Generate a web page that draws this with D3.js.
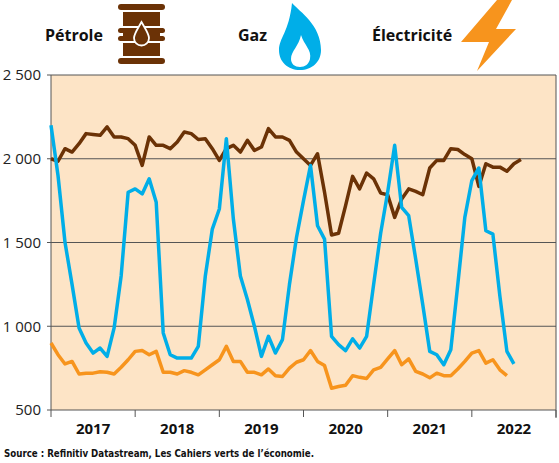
<!DOCTYPE html>
<html><head><meta charset="utf-8">
<script src="https://cdn.jsdelivr.net/npm/d3@7"></script>
<style>body{margin:0;background:#fff}</style></head>
<body><svg id="c" width="559" height="463"></svg>
<script>
const years=["2017","2018","2019","2020","2021","2022"];
const yTicks=[500,1000,1500,2000,2500];
const petrole=[2000,1985,2060,2040,2090,2150,2145,2140,2190,2130,2130,2120,2080,1960,2130,2080,2080,2060,2100,2160,2150,2115,2120,2060,1990,2060,2080,2040,2110,2050,2070,2180,2130,2130,2110,2040,2000,1960,2030,1800,1545,1555,1720,1895,1820,1915,1880,1795,1785,1650,1760,1820,1805,1785,1945,1990,1990,2060,2055,2025,2000,1835,1970,1950,1950,1925,1970,1995];
const gaz=[2200,1900,1500,1250,990,900,840,870,820,990,1300,1800,1820,1790,1880,1740,960,830,810,810,810,880,1300,1580,1700,2120,1640,1300,1160,1000,820,940,840,920,1250,1530,1750,1960,1600,1520,940,890,855,925,870,940,1250,1555,1800,2080,1710,1660,1400,1130,850,830,770,860,1250,1650,1870,1945,1570,1550,1180,850,775];
const electricite=[900,830,775,790,715,720,720,728,725,715,755,800,850,855,830,850,725,725,715,735,725,710,740,770,800,880,790,790,725,725,710,745,705,700,750,785,800,855,790,765,630,640,648,705,695,688,740,755,805,855,770,805,730,715,692,720,705,705,745,790,840,855,780,800,740,705];

const svg=d3.select("#c");
const L=51,R=556,T=75,B=410;
const x=d3.scaleLinear().domain([0,72]).range([L,R]);
const y=d3.scaleLinear().domain([500,2500]).range([B,T]);
svg.append("rect").attr("x",L).attr("y",T).attr("width",R-L).attr("height",B-T).attr("fill","#fde4c6");
const ya=svg.append("g").attr("transform",`translate(${L},0)`).call(d3.axisLeft(y).tickValues(yTicks).tickSize(0).tickPadding(10).tickFormat(d=>d3.format(",")(d).replace(","," ")));
ya.select(".domain").remove();
ya.selectAll("text").attr("font-family","'Open Sans'").attr("font-size",15).attr("fill","#222");
svg.append("g").selectAll("line").data(yTicks).join("line").attr("x1",L-4).attr("x2",R).attr("y1",d=>y(d)).attr("y2",d=>y(d)).attr("stroke","#555").attr("stroke-width",1);
svg.append("line").attr("x1",L).attr("x2",L).attr("y1",T).attr("y2",B).attr("stroke","#555");
svg.append("line").attr("x1",R).attr("x2",R).attr("y1",T).attr("y2",B+8).attr("stroke","#555");
svg.append("g").selectAll("line").data(d3.range(0,7)).join("line").attr("x1",d=>x(d*12)).attr("x2",d=>x(d*12)).attr("y1",B).attr("y2",B+7).attr("stroke","#555");
svg.append("g").selectAll("text").data(years).join("text").attr("x",(d,i)=>x(i*12+6)).attr("y",434).attr("text-anchor","middle")
 .attr("font-family","'Open Sans'").attr("font-weight","bold").attr("font-size",15).attr("fill","#111").text(d=>d);
const line=d3.line().x((d,i)=>x(i)).y(d=>y(d));
[[electricite,"#f7941d"],[petrole,"#6b3206"],[gaz,"#00aee8"]].forEach(([d,c])=>{
 svg.append("path").datum(d).attr("d",line).attr("fill","none").attr("stroke",c).attr("stroke-width",3.5).attr("stroke-linejoin","round");
});
svg.append("text").attr("x",4).attr("y",457).attr("font-family","'DejaVu Sans'").attr("font-stretch","condensed").attr("font-weight","bold").attr("font-size",11).attr("fill","#111")
 .attr("textLength",310).attr("lengthAdjust","spacingAndGlyphs")
 .text("Source : Refinitiv Datastream, Les Cahiers verts de l’économie.");
const lg=[["Pétrole",45],["Gaz",238],["Électricité",372]];
svg.append("g").selectAll("text").data(lg).join("text").attr("x",d=>d[1]).attr("y",41).attr("font-family","'Open Sans'").attr("font-weight","bold").attr("font-size",16).attr("fill","#111").text(d=>d[0]);
const br=svg.append("g").attr("fill","#6b3206");
br.append("rect").attr("x",118).attr("y",4).attr("width",47).attr("height",6).attr("rx",3);
br.append("rect").attr("x",118).attr("y",58).attr("width",47).attr("height",6).attr("rx",3);
br.append("rect").attr("x",123).attr("y",12).attr("width",37).attr("height",44);
br.append("rect").attr("x",118).attr("y",28).attr("width",47).attr("height",5).attr("rx",2.5);
br.append("rect").attr("x",118).attr("y",36).attr("width",47).attr("height",5).attr("rx",2.5);
svg.append("rect").attr("x",123).attr("y",26).attr("width",37).attr("height",2).attr("fill","#fff");
svg.append("rect").attr("x",123).attr("y",41).attr("width",37).attr("height",2).attr("fill","#fff");
svg.append("path").attr("d","M141.5,22 C137,30 134,34 134,38 A7.5,7.5 0 0 0 149,38 C149,34 146,30 141.5,22Z").attr("fill","#6b3206").attr("stroke","#fff").attr("stroke-width",1.8);
svg.append("path").attr("d","M292,3 C300,12 321,25 321,50 C321,62 312,70 300,70 C288,70 279,62 279,50 C279,38 289,32 292,3Z").attr("fill","#00aee8");
svg.append("path").attr("d","M301,35 C304,45 312,50 310,59 C309,64 305,67 300,67 C295,67 291,64 291,59 C291,51 299,46 301,35Z").attr("fill","#fff");
svg.append("path").attr("d","M497,0 L512,0 L496,29 L516,29 L477,71 L489,42 L461,42Z").attr("fill","#f7941d");
</script></body></html>
